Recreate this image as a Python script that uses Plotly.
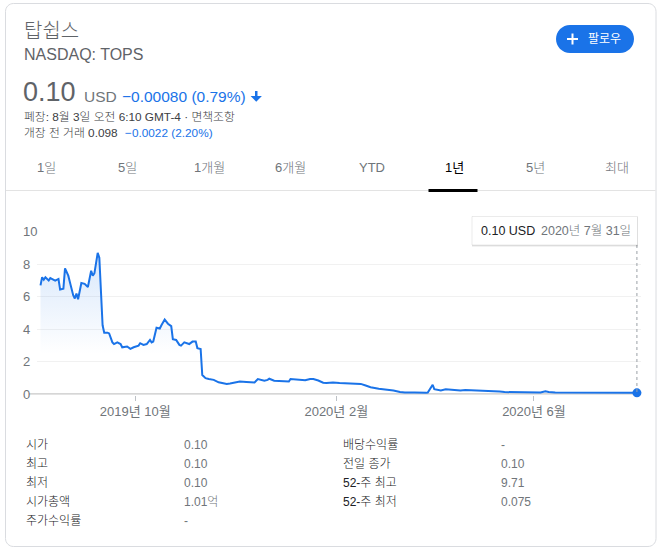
import plotly.graph_objects as go

W, H = 661, 551

# ---------------- data ----------------
dates = [
    "2019-08-04", "2019-08-05", "2019-08-06", "2019-08-07", "2019-08-09", "2019-08-10", "2019-08-13", "2019-08-15", "2019-08-16", "2019-08-18",
    "2019-08-19", "2019-08-21", "2019-08-22", "2019-08-24", "2019-08-25", "2019-08-26", "2019-08-27", "2019-08-29", "2019-08-31", "2019-09-02",
    "2019-09-04", "2019-09-05", "2019-09-06", "2019-09-08", "2019-09-09", "2019-09-11", "2019-09-12", "2019-09-14", "2019-09-15", "2019-09-17",
    "2019-09-18", "2019-09-20", "2019-09-22", "2019-09-23", "2019-09-26", "2019-09-28", "2019-09-30", "2019-10-03", "2019-10-04", "2019-10-06",
    "2019-10-08", "2019-10-10", "2019-10-11", "2019-10-12", "2019-10-14", "2019-10-16", "2019-10-17", "2019-10-19", "2019-10-21", "2019-10-23",
    "2019-10-24", "2019-10-26", "2019-10-28", "2019-10-29", "2019-10-31", "2019-11-02", "2019-11-03", "2019-11-05", "2019-11-07", "2019-11-08",
    "2019-11-10", "2019-11-11", "2019-11-13", "2019-11-15", "2019-11-18", "2019-11-21", "2019-11-23", "2019-11-26", "2019-11-28", "2019-12-02",
    "2019-12-04", "2019-12-08", "2019-12-11", "2019-12-13", "2019-12-15", "2019-12-17", "2019-12-19", "2019-12-21", "2019-12-22", "2019-12-25",
    "2019-12-29", "2020-01-01", "2020-01-03", "2020-01-04", "2020-01-07", "2020-01-10", "2020-01-13", "2020-01-16", "2020-01-18", "2020-01-21",
    "2020-01-24", "2020-01-26", "2020-01-30", "2020-02-03", "2020-02-09", "2020-02-16", "2020-02-19", "2020-02-22", "2020-02-27", "2020-03-02",
    "2020-03-07", "2020-03-11", "2020-03-14", "2020-03-20", "2020-03-23", "2020-03-27", "2020-03-28", "2020-03-31", "2020-04-01", "2020-04-03",
    "2020-04-05", "2020-04-08", "2020-04-11", "2020-04-14", "2020-04-17", "2020-04-20", "2020-04-23", "2020-04-28", "2020-05-03", "2020-05-07",
    "2020-05-11", "2020-05-14", "2020-05-20", "2020-05-27", "2020-06-02", "2020-06-05", "2020-06-08", "2020-06-10", "2020-06-14", "2020-06-23",
    "2020-07-02", "2020-07-05", "2020-07-11", "2020-07-18", "2020-07-24", "2020-07-30", "2020-08-03",
]
prices = [
    6.7, 7.2, 7.05, 7.2, 7.0, 7.15, 7.0, 7.1, 6.45, 6.5,
    7.75, 7.3, 6.9, 6.1, 5.9, 6.2, 5.85, 6.85, 6.8, 6.6,
    7.6, 7.3, 7.45, 8.7, 8.4, 4.25, 3.8, 3.8, 3.75, 3.2,
    3.1, 3.2, 3.1, 2.9, 2.95, 2.8, 2.9, 3.0, 3.15, 3.05,
    3.1, 3.35, 3.2, 3.25, 4.1, 4.05, 4.25, 4.6, 4.35, 4.2,
    3.4, 3.35, 3.05, 3.0, 3.2, 3.15, 3.1, 3.25, 3.25, 2.85,
    2.8, 1.2, 1.0, 0.95, 0.9, 0.75, 0.7, 0.65, 0.67, 0.75,
    0.8, 0.77, 0.75, 0.74, 0.95, 0.9, 0.85, 0.9, 0.97, 0.85,
    0.83, 0.8, 0.8, 0.95, 0.93, 0.9, 0.87, 0.95, 0.95, 0.86,
    0.72, 0.7, 0.73, 0.7, 0.68, 0.65, 0.55, 0.45, 0.35, 0.3,
    0.25, 0.15, 0.12, 0.12, 0.1, 0.1, 0.12, 0.6, 0.33, 0.28,
    0.25, 0.32, 0.3, 0.28, 0.25, 0.28, 0.27, 0.25, 0.25, 0.22,
    0.18, 0.15, 0.15, 0.15, 0.12, 0.12, 0.2, 0.15, 0.12, 0.12,
    0.11, 0.09, 0.09, 0.09, 0.09, 0.09, 0.10,
]

y_ticks = [0, 2, 4, 6, 8, 10]
x_tick_dates = ["2019-10-01", "2020-02-01", "2020-06-01"]
x_tick_labels = ["2019년 10월", "2020년 2월", "2020년 6월"]

range_tabs = ["1일", "5일", "1개월", "6개월", "YTD", "1년", "5년", "최대"]
selected_tab = "1년"

stat_labels_left = ["시가", "최고", "최저", "시가총액", "주가수익률"]
stat_values_left = ["0.10", "0.10", "0.10", "1.01억", "-"]
stat_labels_right = ["배당수익률", "전일 종가", "52-주 최고", "52-주 최저"]
stat_values_right = ["-", "0.10", "9.71", "0.075"]

# ---------------- style ----------------
BLUE = "#1a73e8"
GREY = "#70757a"
DARK = "#202124"
FONT = "Arial, 'Liberation Sans', 'Noto Sans CJK KR', sans-serif"


def px(x):
    return x / W


def py(y):
    return 1 - y / H


def rrect_path(x0, y0, x1, y1, r):
    k = 0.5523 * r
    pts = [
        ("M", [(x0 + r, y0)]),
        ("L", [(x1 - r, y0)]),
        ("C", [(x1 - r + k, y0), (x1, y0 + r - k), (x1, y0 + r)]),
        ("L", [(x1, y1 - r)]),
        ("C", [(x1, y1 - r + k), (x1 - r + k, y1), (x1 - r, y1)]),
        ("L", [(x0 + r, y1)]),
        ("C", [(x0 + r - k, y1), (x0, y1 - r + k), (x0, y1 - r)]),
        ("L", [(x0, y0 + r)]),
        ("C", [(x0, y0 + r - k), (x0 + r - k, y0), (x0 + r, y0)]),
    ]
    s = ""
    for cmd, ps in pts:
        s += cmd + " ".join(f"{px(a):.5f},{py(b):.5f}" for a, b in ps) + " "
    return s + "Z"


def poly_path(points):
    return "M" + " L".join(f"{px(a):.5f},{py(b):.5f}" for a, b in points) + " Z"


annotations = []


def ann(x, y, text, size, color, xanchor="left", weight=None):
    f = dict(size=size, color=color, family=FONT)
    if weight:
        f["weight"] = weight
    annotations.append(dict(
        x=px(x), y=py(y), xref="paper", yref="paper", text=text, showarrow=False,
        xanchor=xanchor, yanchor="middle", font=f,
    ))


fig = go.Figure()

fig.add_trace(go.Scatter(
    x=dates, y=prices, mode="lines",
    line=dict(color=BLUE, width=2),
    fill="tozeroy",
    fillgradient=dict(
        type="vertical",
        colorscale=[[0, "rgba(26,115,232,0)"], [1, "rgba(26,115,232,0.17)"]],
        start=2.5, stop=8.7,
    ),
    hoverinfo="skip", showlegend=False,
))
fig.add_trace(go.Scatter(
    x=[dates[-1]], y=[prices[-1]], mode="markers",
    marker=dict(size=9, color=BLUE), cliponaxis=False,
    hoverinfo="skip", showlegend=False,
))

shapes = []
# card
shapes.append(dict(type="path", path=rrect_path(5.5, 3.5, 656, 546.5, 8), xref="paper", yref="paper",
                   line=dict(color="#dadce0", width=1), layer="below"))
# tabs divider and selected underline
shapes.append(dict(type="line", xref="paper", yref="paper", x0=px(6), x1=px(655.5), y0=py(190.5), y1=py(190.5),
                   line=dict(color="#e3e3e3", width=1)))
shapes.append(dict(type="rect", xref="paper", yref="paper", x0=px(428.5), x1=px(477.5), y0=py(189), y1=py(192),
                   fillcolor="#000000", line=dict(width=0)))
# follow button
shapes.append(dict(type="path", path=rrect_path(556, 25, 634, 53, 14), xref="paper", yref="paper",
                   fillcolor=BLUE, line=dict(width=0)))
shapes.append(dict(type="line", xref="paper", yref="paper", x0=px(567), x1=px(578), y0=py(39), y1=py(39),
                   line=dict(color="white", width=2)))
shapes.append(dict(type="line", xref="paper", yref="paper", x0=px(572.5), x1=px(572.5), y0=py(33.5), y1=py(44.5),
                   line=dict(color="white", width=2)))
# down arrow
shapes.append(dict(type="path", path=poly_path([(255, 91), (257.5, 91), (257.5, 97), (255, 97)]),
                   xref="paper", yref="paper", fillcolor=BLUE, line=dict(width=0)))
shapes.append(dict(type="path", path=poly_path([(250.6, 96), (261.9, 96), (256.25, 101.8)]),
                   xref="paper", yref="paper", fillcolor=BLUE, line=dict(width=0)))
# chart baseline
shapes.append(dict(type="line", xref="paper", yref="y", x0=px(29), x1=px(641), y0=0, y1=0,
                   line=dict(color="#c8c8c8", width=2.5), layer="between"))
# crosshair to last point
shapes.append(dict(type="line", xref="x", yref="paper", x0=dates[-1], x1=dates[-1], y0=py(245), y1=py(392),
                   line=dict(color="#9aa0a6", width=1, dash="dot")))
# tooltip box
shapes.append(dict(type="rect", xref="paper", yref="paper", x0=px(472), x1=px(638), y0=py(217), y1=py(246.5),
                   fillcolor="rgba(0,0,0,0.10)", line=dict(width=0)))
shapes.append(dict(type="rect", xref="paper", yref="paper", x0=px(472), x1=px(637.5), y0=py(216.5), y1=py(245),
                   fillcolor="white", line=dict(color="rgba(0,0,0,0.08)", width=1)))

# header texts
ann(22, 31, "탑쉽스", 20, "#5f6368", weight=300)
ann(21.5, 55, "NASDAQ: TOPS", 16, "#5f6368")
ann(21, 92, "0.10", 27, "#5f6368")
ann(81.5, 96.5, "USD", 15.5, GREY)
ann(119.5, 96.5, "−0.00080 (0.79%)", 15.5, BLUE)
ann(21.5, 117, "폐장: 8월 3일 오전 6:10 GMT-4 · 면책조항", 11.8, "#3c4043", weight=300)
ann(21.5, 133, "개장 전 거래 0.098", 11.8, "#3c4043", weight=300)
ann(123, 133, "−0.0022 (2.20%)", 11.8, BLUE)
ann(585.5, 39, "팔로우", 12, "white")

# tabs
for i, t in enumerate(range_tabs):
    ann(46 + i * 81.6, 167.5, t, 13, "#000000" if t == selected_tab else GREY, xanchor="center",
        weight=None if t == selected_tab else 300)

# tooltip text
ann(478.5, 231, "0.10 USD", 12.5, DARK)
ann(538.5, 231, "2020년 7월 31일", 12.5, GREY, weight=300)

# y tick labels (placed on the y scale, left-aligned like the original widget)
for v in y_ticks:
    annotations.append(dict(
        x=px(20.5), xref="paper", y=v, yref="y", text=str(v), showarrow=False,
        xanchor="left", yanchor="middle", font=dict(size=13, color=GREY, family=FONT),
    ))

# stats table
for i, (lab, val) in enumerate(zip(stat_labels_left, stat_values_left)):
    ann(23.5, 445 + i * 19, lab, 12, DARK, weight=300)
    ann(182.5, 445 + i * 19, val, 12, GREY, weight=300)
for i, (lab, val) in enumerate(zip(stat_labels_right, stat_values_right)):
    ann(340.5, 445 + i * 19, lab, 12, DARK, weight=300)
    ann(498.5, 445 + i * 19, val, 12, GREY, weight=300)

fig.update_layout(
    width=W, height=H,
    margin=dict(l=0, r=0, t=0, b=0),
    paper_bgcolor="white", plot_bgcolor="rgba(0,0,0,0)",
    font=dict(family=FONT, color=GREY),
    showlegend=False,
    shapes=shapes,
    annotations=annotations,
    xaxis=dict(
        domain=[px(37), px(641)], type="date",
        range=["2019-08-01 20:30", "2020-08-05 12:00"],
        tickmode="array", tickvals=x_tick_dates, ticktext=x_tick_labels,
        ticks="outside", ticklen=5, tickcolor="#bdc1c6", tickwidth=1,
        showgrid=False, zeroline=False, showline=False,
        tickfont=dict(size=13, color=GREY, family=FONT),
        fixedrange=True,
    ),
    yaxis=dict(
        domain=[py(394.5), py(231.7)], range=[0, 10],
        tickmode="array", tickvals=y_ticks, showticklabels=False,
        showgrid=True, gridcolor="#f1f1f1", gridwidth=1,
        zeroline=False, showline=False, ticks="",
        fixedrange=True,
    ),
)

fig.write_html("out.html")
